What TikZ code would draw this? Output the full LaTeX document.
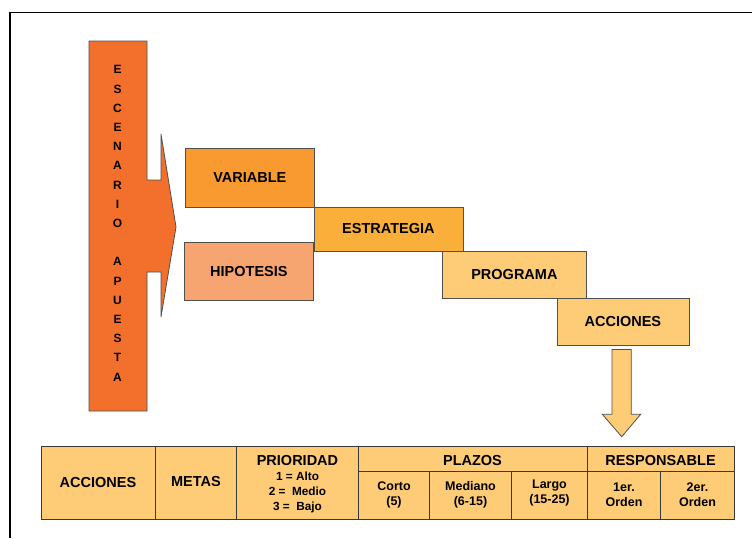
\documentclass[tikz,border=0pt]{standalone}
\usepackage{fontspec}
\setmainfont{Liberation Sans}
\definecolor{cScen}{HTML}{F36F2C}
\definecolor{cVar}{HTML}{F89A2F}
\definecolor{cEst}{HTML}{FAAF3A}
\definecolor{cHip}{HTML}{F6A470}
\definecolor{cProg}{HTML}{FECB76}
\definecolor{cEdge}{HTML}{505050}
\begin{document}
\begin{tikzpicture}[x=1pt,y=-1pt,
  every node/.style={font=\bfseries},
  stepbox/.style={draw=cEdge,line width=0.8pt,inner sep=0pt,anchor=north west},
  bigtxt/.style={font=\fontsize{14.5}{17}\selectfont\bfseries},
  cell/.style={draw=cEdge!70!black,line width=1pt,fill=cProg},
  celltxt/.style={font=\fontsize{12.5}{15}\selectfont\bfseries,align=center,inner sep=0pt},
  smalltxt/.style={font=\fontsize{11.8}{15}\selectfont\bfseries,align=center,inner sep=0pt}]
\useasboundingbox (0,0) rectangle (752,538);
% frame
\draw[line width=1.5pt] (752,12.5) -- (10,12.5) -- (10,538);
% scenario arrow
\draw[fill=cScen,draw=cEdge,line width=0.8pt]
  (89,41) -- (147,41) -- (147,180) -- (161,180) -- (161,134) -- (176,227)
  -- (161,317) -- (161,272) -- (147,272) -- (147,411) -- (89,411) -- cycle;
\node[font=\fontsize{12}{19.2}\selectfont\bfseries,align=center,anchor=north,inner sep=0pt] (scen) at (117.5,65.5)
  {E\\S\\C\\E\\N\\A\\R\\I\\O\\[19.2pt]A\\P\\U\\E\\S\\T\\A};
% step boxes
\node[stepbox,fill=cVar,minimum width=129pt,minimum height=59pt] (var) at (185,147.5) {};
\node[bigtxt] at (var.center) {VARIABLE};
\node[stepbox,fill=cHip,minimum width=129pt,minimum height=58pt] (hip) at (184,242) {};
\node[bigtxt] at (hip.center) {HIPOTESIS};
\node[stepbox,fill=cEst,minimum width=149pt,minimum height=44pt] (est) at (313.5,206.5) {};
\node[bigtxt] at (est.center) {ESTRATEGIA};
\node[stepbox,fill=cProg,minimum width=144pt,minimum height=46.5pt] (prog) at (442,251) {};
\node[bigtxt] at (prog.center) {PROGRAMA};
\node[stepbox,fill=cProg,minimum width=132pt,minimum height=46.5pt] (acc) at (556.5,298) {};
\node[bigtxt] at (acc.center) {ACCIONES};
% down arrow
\coordinate (dtip) at (621.7,436.7);
\draw[fill=cProg,draw=cEdge,line width=0.8pt]
  (612,349.5) -- (631.3,349.5) -- (631.3,414.3) -- (640.7,414.3) -- (dtip)
  -- (602.3,414.3) -- (612,414.3) -- cycle;
% table
\draw[cell] (41,446.5) rectangle (734.3,519.5);
\draw[cell] (358.5,471.7) -- (734.3,471.7);
\foreach \x in {155.7,236.7,358.5,587} \draw[cell] (\x,446.5) -- (\x,519.5);
\foreach \x in {429.3,511.7,660.7} \draw[cell] (\x,471.7) -- (\x,519.5);
\node[bigtxt] (tacc) at (98,483) {ACCIONES};
\node[bigtxt] (tmet) at (196,482) {METAS};
\node[bigtxt,inner sep=0pt] (tpri) at (297.5,461) {PRIORIDAD};
\node[smalltxt] (tprs) at (297.5,492.5) {1 = Alto\\2 =\ \ Medio\\3 =\ \ Bajo};
\node[bigtxt,inner sep=0pt] (tpla) at (472.5,461) {PLAZOS};
\node[bigtxt,inner sep=0pt] (tres) at (660.5,461) {RESPONSABLE};
\node[celltxt] (tcor) at (394,495) {Corto\\(5)};
\node[celltxt] (tmed) at (470.5,495) {Mediano\\(6-15)};
\node[celltxt] (tlar) at (549.5,493) {Largo\\(15-25)};
\node[celltxt] (t1o) at (624,495) {1er.\\Orden};
\node[celltxt] (t2o) at (697.5,495) {2er.\\Orden};
\end{tikzpicture}
\end{document}
